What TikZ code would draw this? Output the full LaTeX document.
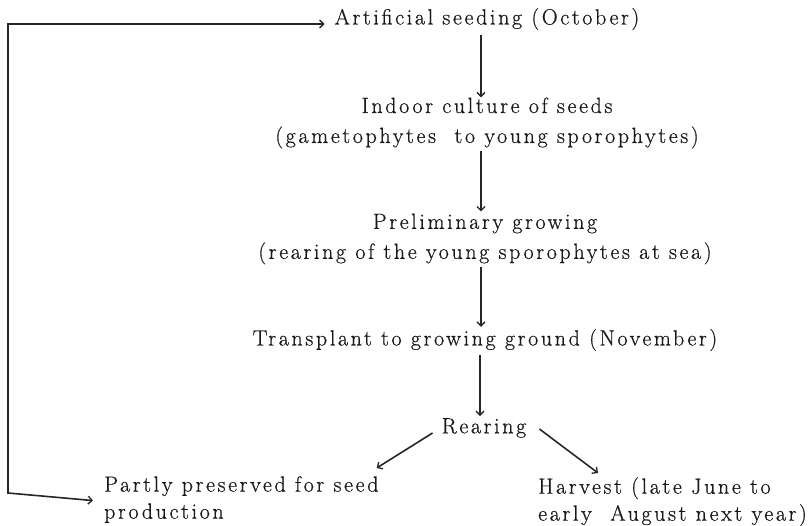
\documentclass[tikz,border=0pt]{standalone}
\usepackage{fontspec}
\setmainfont{Latin Modern Roman}[LetterSpace=12,FakeBold=0.6]
\usetikzlibrary{arrows.meta,calc}
\begin{document}
\begin{tikzpicture}[x=1pt,y=-1pt,
  lbl/.style={inner sep=0pt, font=\fontsize{22}{30}\selectfont, align=center, text=black!90},
  lblL/.style={inner sep=0pt, font=\fontsize{22}{27}\selectfont, align=left, text=black!90},
  tip/.style={},
  arr/.style={line width=1.6pt, draw=black!85, -{Straight Barb[length=4pt,width=8pt,line width=1.3pt]}},
  biarr/.style={line width=1.6pt, draw=black!85, {Straight Barb[length=4pt,width=8pt,line width=1.3pt]}-{Straight Barb[length=4pt,width=8pt,line width=1.3pt]}}]
\useasboundingbox (0,0) rectangle (810,526);
\node[lbl] (art) at (487,19) {Artificial seeding (October)};
\node[lbl] (ind) at (487,123) {Indoor culture of seeds\\(gametophytes \ to young sporophytes)};
\node[lbl] (pre) at (485,239) {Preliminary growing\\(rearing of the young sporophytes at sea)};
\node[lbl] (tra) at (485,340) {Transplant to growing ground (November)};
\node[lbl] (rea) at (484,428) {Rearing};
\node[lblL, anchor=north west] (par) at (104,476) {Partly preserved for seed\\production};
\node[lblL, anchor=north west] (har) at (538,477) {Harvest (late June to\\early \ August next year)};
\coordinate (cT) at (8,24);
\coordinate (cB) at (8,493);
\draw[arr] ($(art.south)+(-6,5)$) -- ($(ind.north)+(-6,0)$);
\draw[arr] ($(ind.south)+(-6,2)$) -- ($(pre.north)+(-4,-2)$);
\draw[arr] ($(pre.south)+(-4,2)$) -- ($(tra.north)+(-4,-2)$);
\draw[arr] ($(tra.south)+(-5,4)$) -- ($(rea.north)+(-4,-2)$);
\draw[arr] ($(rea.west)+(-9,5)$) -- ($(par.north east)+(-2,-8)$);
\draw[arr] ($(rea.east)+(13,1)$) -- ($(har.north west)+(60,-4)$);
\draw[biarr] ($(par.west)+(-11,1)$) -- (cB) -- (cT) -- ($(art.west)+(-10,5)$);
\end{tikzpicture}
\end{document}
